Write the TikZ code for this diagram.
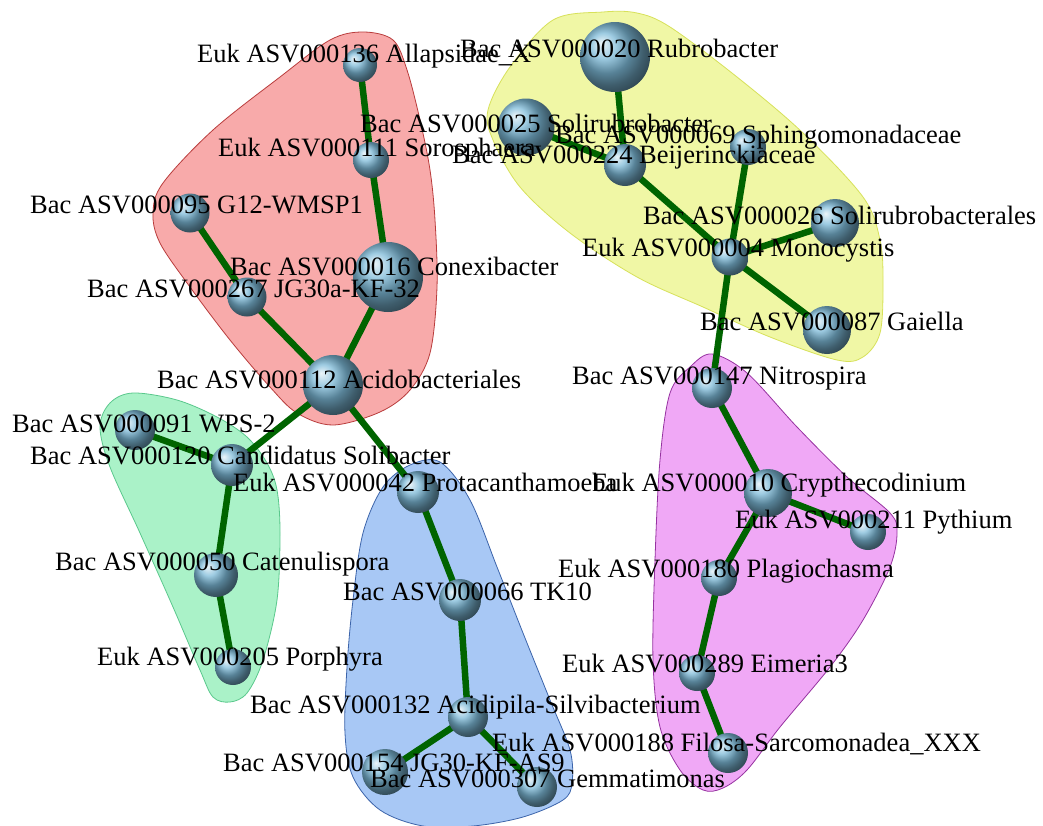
\documentclass[tikz,border=0pt]{standalone}
\usepackage{fontspec}
\setmainfont{Liberation Serif}
\definecolor{linkgreen}{RGB}{0,100,0}
\definecolor{spherecol}{RGB}{125,186,216}
\definecolor{redfill}{RGB}{248,170,170}
\definecolor{redline}{RGB}{185,60,60}
\definecolor{yelfill}{RGB}{240,247,165}
\definecolor{yelline}{RGB}{215,225,90}
\definecolor{grnfill}{RGB}{170,242,200}
\definecolor{grnline}{RGB}{90,200,140}
\definecolor{blufill}{RGB}{168,200,245}
\definecolor{bluline}{RGB}{60,100,170}
\definecolor{magfill}{RGB}{240,168,246}
\definecolor{magline}{RGB}{150,50,160}
\pgfdeclarelayer{hulls}
\pgfdeclarelayer{links}
\pgfsetlayers{hulls,links,main}
\tikzset{
  sphere/.style={circle, inner sep=0pt, shading=ball, ball color=spherecol},
  link/.style={line width=6.5pt, draw=linkgreen},
  lab/.style={anchor=base west, inner sep=0pt, text=black,
              font=\fontsize{26.5}{30}\selectfont},
  hull/.style={line width=0.8pt}
}
\begin{document}
\begin{tikzpicture}[x=1pt, y=-1pt]
\useasboundingbox (0,0) rectangle (1043,825);

% ---- module outlines ----
\begin{pgfonlayer}{hulls}
\fill[white] (0,0) rectangle (1043,825);
\draw[hull, fill=redfill, draw=redline] plot[smooth cycle, tension=0.55] coordinates {
  (363,32) (393,40) (407,70) (420,120) (430,170) (435,220) (437,287) (430,353)
  (410,390) (380,412) (333,425) (297,413) (270,387) (230,340) (190,287)
  (160,243) (153,213) (163,183) (213,130) (280,77) (330,40)};
\draw[hull, fill=yelfill, draw=yelline] plot[smooth cycle, tension=0.55] coordinates {
  (603,12) (637,13) (670,27) (737,77) (803,133) (863,197) (880,240) (883,283)
  (880,333) (863,357) (837,360) (770,337) (703,307) (637,277) (570,233)
  (520,187) (493,140) (488,110) (510,67) (553,20)};
\draw[hull, fill=grnfill, draw=grnline] plot[smooth cycle, tension=0.55] coordinates {
  (133,393) (177,400) (217,417) (247,437) (267,463) (277,490) (280,533)
  (277,600) (263,660) (247,693) (230,702) (213,697) (200,670) (173,607)
  (140,533) (110,467) (100,427) (110,403)};
\draw[hull, fill=blufill, draw=bluline] plot[smooth cycle, tension=0.55] coordinates {
  (440,462) (470,500) (497,567) (523,633) (550,700) (570,750) (572,783)
  (563,800) (523,817) (473,826) (423,826) (380,810) (353,777) (345,733)
  (347,667) (353,600) (363,533) (383,487) (410,465)};
\draw[hull, fill=magfill, draw=magline] plot[smooth cycle, tension=0.55] coordinates {
  (712,354) (747,373) (797,427) (847,477) (890,513) (897,533) (890,567)
  (863,620) (830,667) (780,727) (747,770) (723,788) (703,790) (680,770)
  (660,727) (653,660) (655,560) (660,460) (670,393) (690,367)};
\end{pgfonlayer}

% ---- taxa ----
\node[sphere, minimum size=34pt] (n136) at (360,65) {};
\node[sphere, minimum size=36pt] (n111) at (371,160) {};
\node[sphere, minimum size=39pt] (n095) at (190,213) {};
\node[sphere, minimum size=70pt] (n016) at (388,277) {};
\node[sphere, minimum size=39pt] (n267) at (247,297) {};
\node[sphere, minimum size=60pt] (n112) at (333,385) {};
\node[sphere, minimum size=70pt] (n020) at (615,57) {};
\node[sphere, minimum size=57pt] (n025) at (526,127) {};
\node[sphere, minimum size=42pt] (n224) at (625,165) {};
\node[sphere, minimum size=36pt] (n069) at (748,147) {};
\node[sphere, minimum size=37pt] (n004) at (730,257) {};
\node[sphere, minimum size=48pt] (n026) at (835,223) {};
\node[sphere, minimum size=48pt] (n087) at (827,330) {};
\node[sphere, minimum size=40pt] (n147) at (712,388) {};
\node[sphere, minimum size=48pt] (n010) at (768,493) {};
\node[sphere, minimum size=36pt] (n211) at (868,532) {};
\node[sphere, minimum size=36pt] (n180) at (719,578) {};
\node[sphere, minimum size=36pt] (n289) at (697,673) {};
\node[sphere, minimum size=40pt] (n188) at (728,753) {};
\node[sphere, minimum size=40pt] (n091) at (135,430) {};
\node[sphere, minimum size=42pt] (n120) at (232,465) {};
\node[sphere, minimum size=44pt] (n050) at (216,575) {};
\node[sphere, minimum size=36pt] (n205) at (233,667) {};
\node[sphere, minimum size=42pt] (n042) at (418,492) {};
\node[sphere, minimum size=42pt] (n066) at (460,600) {};
\node[sphere, minimum size=40pt] (n132) at (468,717) {};
\node[sphere, minimum size=46pt] (n154) at (385,772) {};
\node[sphere, minimum size=40pt] (n307) at (537,787) {};

% ---- correlations ----
\begin{pgfonlayer}{links}
\foreach \a/\b in {n136/n111, n111/n016, n095/n267, n267/n112, n016/n112,
                   n112/n120, n112/n042, n091/n120, n120/n050, n050/n205,
                   n042/n066, n066/n132, n132/n154, n132/n307,
                   n020/n224, n025/n224, n224/n004, n069/n004, n026/n004,
                   n087/n004, n004/n147, n147/n010, n010/n211, n010/n180,
                   n180/n289, n289/n188}
  \draw[link] (\a.center) -- (\b.center);
\end{pgfonlayer}

% ---- labels ----
\node[lab] (l136) at (197,62)  {Euk ASV000136 Allapsidae\_X};
\node[lab] (l020) at (460,57)  {Bac ASV000020 Rubrobacter};
\node[lab] (l025) at (360,132) {Bac ASV000025 Solirubrobacter};
\node[lab] (l069) at (555,143) {Bac ASV000069 Sphingomonadaceae};
\node[lab] (l111) at (218,156) {Euk ASV000111 Sorosphaera};
\node[lab] (l224) at (452,163) {Bac ASV000224 Beijerinckiaceae};
\node[lab] (l095) at (30,213)  {Bac ASV000095 G12-WMSP1};
\node[lab] (l026) at (643,224) {Bac ASV000026 Solirubrobacterales};
\node[lab] (l004) at (582,256) {Euk ASV000004 Monocystis};
\node[lab] (l016) at (230,275) {Bac ASV000016 Conexibacter};
\node[lab] (l267) at (87,297)  {Bac ASV000267 JG30a-KF-32};
\node[lab] (l087) at (700,330) {Bac ASV000087 Gaiella};
\node[lab] (l147) at (572,384) {Bac ASV000147 Nitrospira};
\node[lab] (l112) at (157,388) {Bac ASV000112 Acidobacteriales};
\node[lab] (l091) at (12,432)  {Bac ASV000091 WPS-2};
\node[lab] (l120) at (30,464)  {Bac ASV000120 Candidatus Solibacter};
\node[lab] (l042) at (233,491) {Euk ASV000042 Protacanthamoeba};
\node[lab] (l010) at (592,491) {Euk ASV000010 Crypthecodinium};
\node[lab] (l211) at (735,528) {Euk ASV000211 Pythium};
\node[lab] (l050) at (55,570)  {Bac ASV000050 Catenulispora};
\node[lab] (l180) at (558,577) {Euk ASV000180 Plagiochasma};
\node[lab] (l066) at (343,600) {Bac ASV000066 TK10};
\node[lab] (l205) at (97,665)  {Euk ASV000205 Porphyra};
\node[lab] (l289) at (562,672) {Euk ASV000289 Eimeria3};
\node[lab] (l132) at (250,713) {Bac ASV000132 Acidipila-Silvibacterium};
\node[lab] (l188) at (492,751) {Euk ASV000188 Filosa-Sarcomonadea\_XXX};
\node[lab] (l154) at (223,771) {Bac ASV000154 JG30-KF-AS9};
\node[lab] (l307) at (370,787) {Bac ASV000307 Gemmatimonas};
\end{tikzpicture}
\end{document}
